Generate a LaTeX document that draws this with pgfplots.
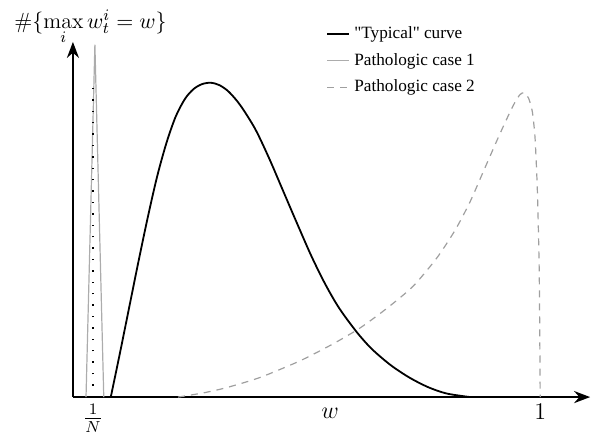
\documentclass[border=0pt]{standalone}
\usepackage{pgfplots}
\pgfplotsset{compat=1.18}
\usepackage{fontspec}
\usetikzlibrary{arrows.meta}
\newfontfamily\legfont{Liberation Serif}
\begin{document}
\begin{tikzpicture}
\begin{axis}[
    scale only axis,
    width=258.5pt, height=177.5pt,
    xmin=0, xmax=1.107, ymin=0, ymax=1,
    axis lines=left,
    axis line style={line width=1.2pt, black, -{Stealth[length=8pt,width=6pt]}},
    xtick={0.043,1}, xticklabels={$\frac{1}{N}$,$1$},
    xticklabel style={font=\large},
    ytick=\empty,
    major tick length=0pt,
    clip=false,
    legend style={draw=none, fill=none, at={(rel axis cs:0.478,1.066)}, anchor=north west,
        font=\fontsize{8.6}{10}\selectfont\legfont, row sep=1.8pt},
    legend cell align=left,
    legend image code/.code={\draw[#1] (0pt,0pt) -- (11pt,0pt);},
]
% "Typical" curve
\addplot[black, line width=0.9pt, smooth, tension=0.5] coordinates {
    (0.081,0) (0.100,0.120) (0.120,0.250) (0.140,0.380) (0.160,0.505)
    (0.180,0.620) (0.200,0.715) (0.220,0.790) (0.240,0.840) (0.258,0.867)
    (0.276,0.881) (0.295,0.885) (0.314,0.878) (0.334,0.859) (0.358,0.822)
    (0.390,0.755) (0.420,0.672) (0.450,0.580) (0.480,0.488) (0.510,0.398)
    (0.540,0.318) (0.570,0.250) (0.608,0.182) (0.640,0.135) (0.680,0.090)
    (0.720,0.055) (0.760,0.028) (0.800,0.010) (0.850,0)
};
\addlegendentry{"Typical" curve}
% Pathologic case 1
\addplot[gray!65, line width=0.6pt] coordinates {
    (0.028,0) (0.047,0.992) (0.066,0)
};
\addlegendentry{Pathologic case 1}
% Pathologic case 2
\addplot[gray!75, line width=0.6pt, dash pattern=on 3.5pt off 3pt, smooth, tension=0.4] coordinates {
    (0.225,0) (0.280,0.012) (0.330,0.027) (0.400,0.055) (0.486,0.102)
    (0.557,0.150) (0.615,0.195) (0.672,0.250) (0.728,0.312) (0.779,0.392)
    (0.818,0.470) (0.850,0.550) (0.880,0.640) (0.910,0.730) (0.932,0.793)
    (0.946,0.830) (0.957,0.852) (0.966,0.857) (0.975,0.842) (0.983,0.805)
    (0.989,0.730) (0.994,0.580) (0.998,0.350) (1.0,0)
};
\addlegendentry{Pathologic case 2}
% 1/N marker
\addplot[black, line width=0.7pt, dash pattern=on 0.7pt off 5pt, forget plot] coordinates {
    (0.043,0) (0.043,0.893)
};
\node[anchor=base, font=\fontsize{11}{13}\selectfont] at (rel axis cs:0.034,1.039) {$\#\{\max\limits_i w_t^i = w\}$};
\node[anchor=north, font=\large] at (rel axis cs:0.497,-0.01) {$w$};
\path (rel axis cs:-0.141,-0.104) rectangle (rel axis cs:1.019,1.118);
\end{axis}
\end{tikzpicture}
\end{document}
